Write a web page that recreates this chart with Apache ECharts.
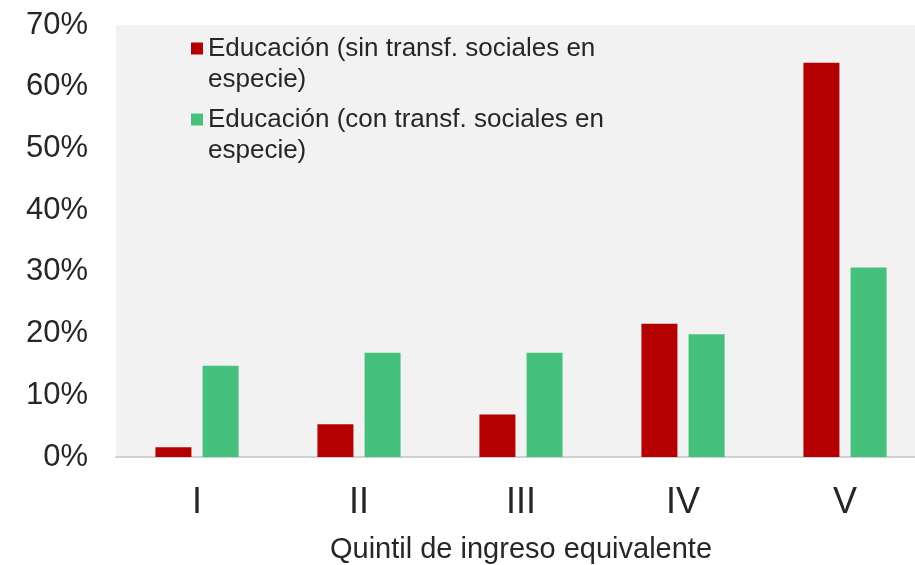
<!DOCTYPE html>
<html>
<head>
<meta charset="utf-8">
<script src="https://cdn.jsdelivr.net/npm/echarts@6/dist/echarts.min.js"></script>
<style>
  html, body { margin: 0; padding: 0; background: #fff; }
  #chart { width: 915px; height: 565px; }
</style>
</head>
<body>
<div id="chart"></div>
<script>
// quintiles on the x axis
const quintiles = ['I', 'II', 'III', 'IV', 'V'];
// share of education spending by quintile (%)
const sinTransf = [1.6, 5.3, 6.9, 21.6, 63.9];
const conTransf = [14.8, 16.9, 16.9, 19.9, 30.7];
const seriesNames = [
  'Educación (sin transf. sociales en\nespecie)',
  'Educación (con transf. sociales en\nespecie)'
];
const colors = ['#b40000', '#45c17d'];

const chart = echarts.init(document.getElementById('chart'));
const font = 'Liberation Sans, Arial, sans-serif';

chart.setOption({
  animation: false,
  textStyle: { fontFamily: font },
  grid: {
    left: 116,
    width: 810,
    top: 25,
    bottom: 108,
    outerBoundsMode: 'none',
    show: true,
    backgroundColor: '#f2f2f2',
    borderWidth: 0
  },
  legend: {
    orient: 'vertical',
    left: 186,
    top: -3,
    itemWidth: 12,
    itemHeight: 12,
    itemGap: -22,
    icon: 'rect',
    data: seriesNames,
    // leading blank line keeps the marker level with the first text line
    formatter: name => '\n' + name,
    textStyle: {
      fontSize: 26,
      lineHeight: 31,
      color: '#262626'
    }
  },
  xAxis: {
    type: 'category',
    data: quintiles,
    axisLine: { lineStyle: { color: '#d0d0d0', width: 2 } },
    axisTick: { show: false },
    axisLabel: { fontSize: 36, color: '#262626', margin: 28 },
    name: 'Quintil de ingreso equivalente',
    nameLocation: 'middle',
    nameGap: 78,
    nameTextStyle: { fontSize: 29, color: '#262626' }
  },
  yAxis: {
    type: 'value',
    min: 0,
    max: 70,
    interval: 10,
    splitLine: { show: false },
    axisLabel: {
      formatter: '{value}%',
      fontSize: 31,
      color: '#262626',
      margin: 28
    }
  },
  series: [
    {
      name: seriesNames[0],
      type: 'bar',
      data: sinTransf,
      itemStyle: { color: colors[0] },
      barWidth: 36,
      barGap: '31%'
    },
    {
      name: seriesNames[1],
      type: 'bar',
      data: conTransf,
      itemStyle: { color: colors[1] },
      barWidth: 36,
      barGap: '31%'
    }
  ]
});
</script>
</body>
</html>
